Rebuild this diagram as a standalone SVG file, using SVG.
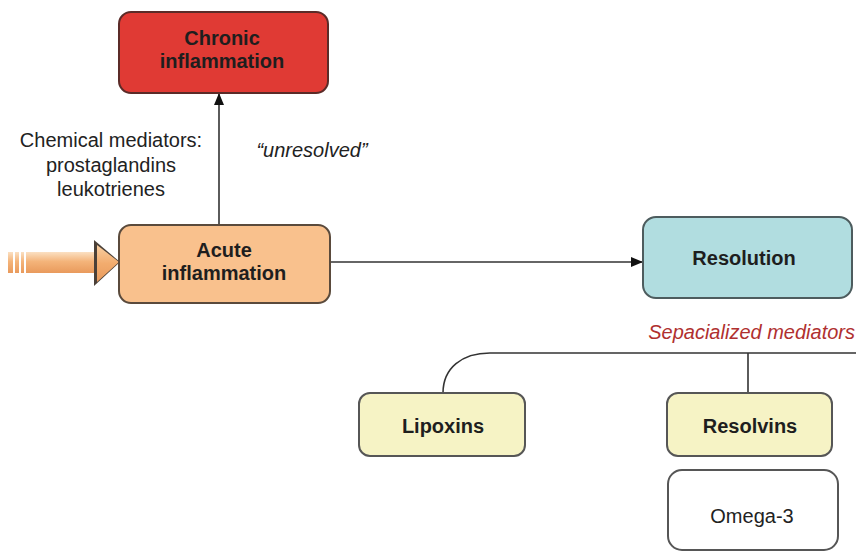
<svg xmlns="http://www.w3.org/2000/svg" width="856" height="551" viewBox="0 0 856 551">
<style>
.box{stroke-width:2}
.b{font-family:"Liberation Sans",Arial,sans-serif;font-weight:bold;font-size:20px;fill:#1e1e1e;text-anchor:middle}
.r{font-family:"Liberation Sans",Arial,sans-serif;font-size:20px;fill:#222;text-anchor:middle}
.line{fill:none;stroke:#333;stroke-width:1.6}
</style>
<defs>
<marker id="ah" viewBox="0 0 12 10" refX="12" refY="5" markerWidth="12" markerHeight="10" markerUnits="userSpaceOnUse" orient="auto">
<path d="M0,0 L12,5 L0,10 Z" fill="#111"/>
</marker>
<linearGradient id="shaft" x1="0" y1="0" x2="0" y2="1">
<stop offset="0" stop-color="#fbe0c2"/>
<stop offset="0.45" stop-color="#f4b47a"/>
<stop offset="1" stop-color="#e99a5c"/>
</linearGradient>
<linearGradient id="head" x1="0" y1="0" x2="0" y2="1">
<stop offset="0" stop-color="#f8cfa2"/>
<stop offset="0.5" stop-color="#f2ac6e"/>
<stop offset="1" stop-color="#e99a5c"/>
</linearGradient>
</defs>

<g id="input-arrow">
<rect x="8" y="252" width="5" height="21" fill="url(#shaft)"/>
<rect x="15" y="252" width="4" height="21" fill="url(#shaft)"/>
<rect x="21" y="252" width="3" height="21" fill="url(#shaft)"/>
<rect x="26" y="252" width="72" height="21" fill="url(#shaft)"/>
<polygon points="94,240 120,262 94,286" fill="#4a4038"/>
<polygon points="97,245 119,262 97,282 97,273 97,252" fill="url(#head)"/>
</g>

<g id="connectors">
<line class="line" x1="219" y1="225" x2="219" y2="93" marker-end="url(#ah)"/>
<line class="line" x1="330" y1="262" x2="643" y2="262" marker-end="url(#ah)"/>
<path class="line" d="M443,393 C443,368 462,353 490,353 H856"/>
<line class="line" x1="748" y1="353" x2="748" y2="393"/>
</g>

<g id="chronic">
<rect class="box" x="119" y="12" width="209" height="81" rx="12" fill="#e03a34" stroke="#5b2b28"/>
<text class="b" x="222" y="45">Chronic</text>
<text class="b" x="222" y="68">inflammation</text>
</g>

<g id="acute">
<rect class="box" x="119" y="225" width="211" height="78" rx="12" fill="#f9c18d" stroke="#5a4a3c"/>
<text class="b" x="224" y="257">Acute</text>
<text class="b" x="224" y="280">inflammation</text>
</g>

<g id="resolution">
<rect class="box" x="643" y="217" width="209" height="81" rx="13" fill="#b1dde0" stroke="#4d5c5e"/>
<text class="b" x="744" y="265">Resolution</text>
</g>

<g id="lipoxins">
<rect class="box" x="359" y="393" width="166" height="63" rx="11" fill="#f6f3c5" stroke="#565656"/>
<text class="b" x="443" y="433">Lipoxins</text>
</g>

<g id="resolvins">
<rect class="box" x="667" y="393" width="165" height="63" rx="11" fill="#f6f3c5" stroke="#565656"/>
<text class="b" x="750" y="433">Resolvins</text>
</g>

<g id="omega3">
<rect class="box" x="668" y="470" width="170" height="80" rx="14" fill="#ffffff" stroke="#565656"/>
<text class="r" x="752" y="523">Omega-3</text>
</g>

<g id="labels">
<text class="r" x="111" y="147">Chemical mediators:</text>
<text class="r" x="111" y="172">prostaglandins</text>
<text class="r" x="111" y="196">leukotrienes</text>
<text class="r" x="312" y="157" font-style="italic">“unresolved”</text>
<text x="855" y="339" font-family="Liberation Sans,Arial,sans-serif" font-size="20" font-style="italic" fill="#b0302f" text-anchor="end">Sepacialized mediators</text>
</g>
</svg>
